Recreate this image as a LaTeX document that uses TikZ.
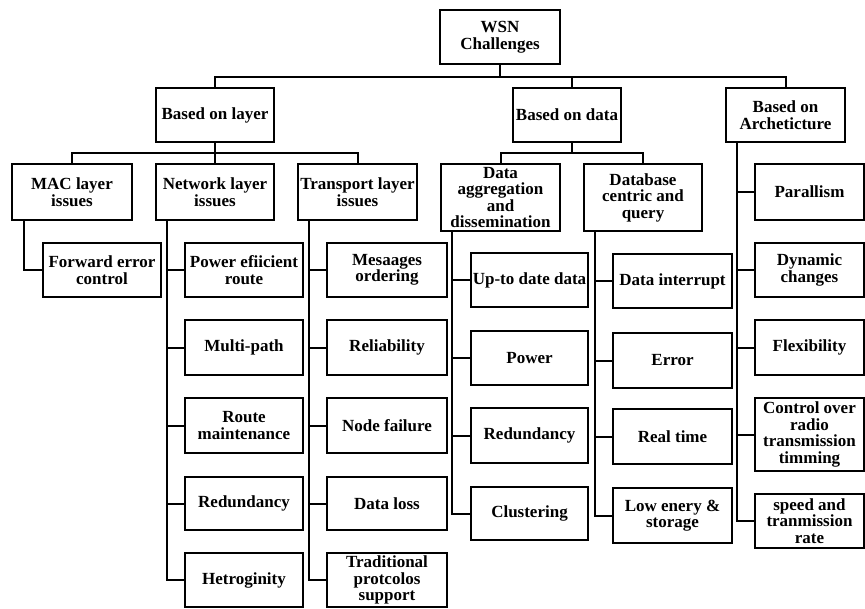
\documentclass[tikz,border=0pt]{standalone}
\usepackage{fontspec}
\setmainfont{Liberation Serif}
\begin{document}
\begin{tikzpicture}[x=1pt,y=-1pt,
  box/.style={draw=black, line width=2.2pt, fill=white, inner sep=0pt, align=center,
    font=\fontsize{17}{16.5}\selectfont\bfseries},
  link/.style={draw=black, line width=2pt}]
\useasboundingbox (0,0) rectangle (865,608);
\newcommand{\bx}[6]{%
  \pgfmathsetmacro{\cxx}{(#2+#4)/2}\pgfmathsetmacro{\cyy}{(#3+#5)/2}%
  \pgfmathsetmacro{\ww}{#4-#2}\pgfmathsetmacro{\hh}{#5-#3}%
  \node[box, minimum width=\ww pt, minimum height=\hh pt] (#1) at (\cxx,\cyy) {#6};}
% level 0 and 1
\bx{root}{440}{10}{560}{64}{WSN\\Challenges}
\bx{L}{156}{88}{274}{142}{Based on layer}
\bx{D}{513}{88}{621}{142}{Based on data}
\bx{A}{726}{88}{845}{142}{Based on\\Archeticture}
% level 2
\bx{mac}{12}{164}{132}{220}{MAC layer\\issues}
\bx{net}{156}{164}{274}{220}{Network layer\\issues}
\bx{tra}{298}{164}{417}{220}{Transport layer\\issues}
\bx{agg}{441}{164}{560}{231}{Data\\aggregation\\and\\dissemination}
\bx{dbc}{584}{164}{702}{231}{Database\\centric and\\query}
% architecture children
\bx{a1}{755}{164}{864}{220}{Parallism}
\bx{a2}{755}{243}{864}{297}{Dynamic\\changes}
\bx{a3}{755}{320}{864}{375}{Flexibility}
\bx{a4}{755}{398}{864}{471}{Control over\\radio\\transmission\\timming}
\bx{a5}{755}{494}{864}{548}{speed and\\tranmission\\rate}
% MAC child
\bx{fec}{43}{243}{161}{297}{Forward error\\control}
% network children
\bx{n1}{185}{243}{303}{297}{Power efiicient\\route}
\bx{n2}{185}{320}{303}{375}{Multi-path}
\bx{n3}{185}{398}{303}{453}{Route\\maintenance}
\bx{n4}{185}{477}{303}{530}{Redundancy}
\bx{n5}{185}{553}{303}{607}{Hetroginity}
% transport children
\bx{t1}{327}{243}{447}{297}{Mesaages\\ordering}
\bx{t2}{327}{320}{447}{375}{Reliability}
\bx{t3}{327}{398}{447}{453}{Node failure}
\bx{t4}{327}{477}{447}{530}{Data loss}
\bx{t5}{327}{553}{447}{607}{Traditional\\protcolos\\support}
% aggregation children
\bx{g1}{471}{253}{588}{307}{Up-to date data}
\bx{g2}{471}{331}{588}{385}{Power}
\bx{g3}{471}{408}{588}{463}{Redundancy}
\bx{g4}{471}{487}{588}{540}{Clustering}
% database children
\bx{b1}{613}{254}{732}{308}{Data interrupt}
\bx{b2}{613}{333}{732}{388}{Error}
\bx{b3}{613}{409}{732}{464}{Real time}
\bx{b4}{613}{488}{732}{543}{Low enery \&\\storage}
% connectors
\coordinate (bus0) at (0,77);
\draw[link] (root.south) -- (root.south |- bus0);
\draw[link] (L.north) |- (A.north |- bus0) -- (A.north);
\draw[link] ([xshift=5pt]D.north) -- ([xshift=5pt]D.north |- bus0);
\coordinate (bus1) at (0,153);
\draw[link] (L.south) -- (L.south |- bus1);
\draw[link] (mac.north) |- (tra.north |- bus1) -- (tra.north);
\draw[link] (net.north) -- (net.north |- bus1);
\draw[link] ([xshift=5pt]D.south) -- ([xshift=5pt]D.south |- bus1);
\draw[link] (agg.north) |- (dbc.north |- bus1) -- (dbc.north);
\draw[link] ([xshift=13pt]mac.south west) |- (fec.west);
\foreach \c in {n1,n2,n3,n4,n5}{\draw[link] ([xshift=12pt]net.south west) |- (\c.west);}
\foreach \c in {t1,t2,t3,t4,t5}{\draw[link] ([xshift=12pt]tra.south west) |- (\c.west);}
\foreach \c in {g1,g2,g3,g4}{\draw[link] ([xshift=12pt]agg.south west) |- (\c.west);}
\foreach \c in {b1,b2,b3,b4}{\draw[link] ([xshift=12pt]dbc.south west) |- (\c.west);}
\foreach \c in {a1,a2,a3,a4,a5}{\draw[link] ([xshift=12pt]A.south west) |- (\c.west);}
\end{tikzpicture}
\end{document}
